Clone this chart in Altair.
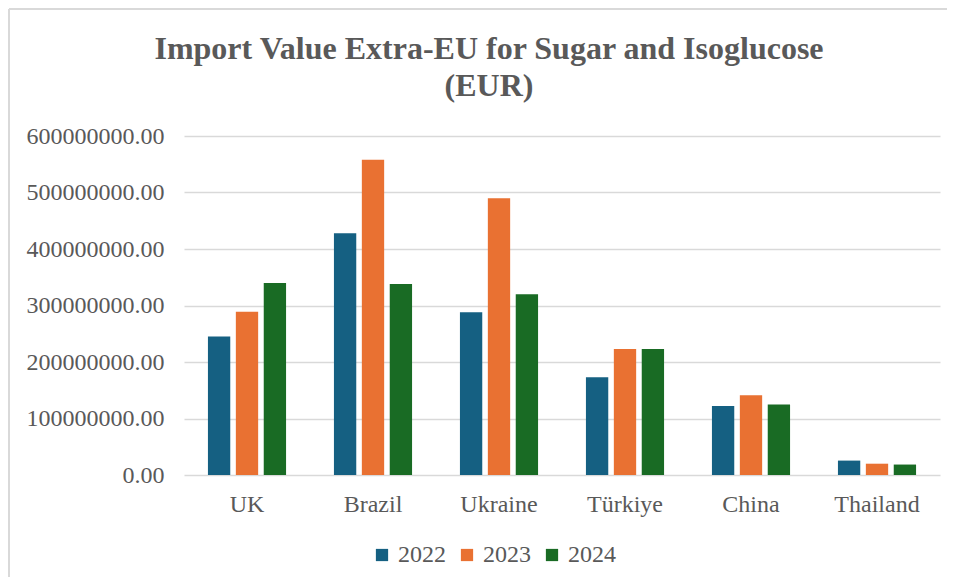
import altair as alt
import pandas as pd

countries = ["UK", "Brazil", "Ukraine", "Türkiye", "China", "Thailand"]
years = ["2022", "2023", "2024"]
v2022 = [245e6, 428e6, 288e6, 173e6, 122e6, 25.5e6]
v2023 = [289e6, 558e6, 490e6, 223e6, 141e6, 20e6]
v2024 = [340e6, 338e6, 320e6, 223e6, 125e6, 18.5e6]
colors = ["#156082", "#E97132", "#196B24"]
y_ticks = [0, 1e8, 2e8, 3e8, 4e8, 5e8, 6e8]
title_lines = ["Import Value Extra-EU for Sugar and Isoglucose", "(EUR)"]

rows = []
for yr, vals in zip(years, [v2022, v2023, v2024]):
    for c, v in zip(countries, vals):
        rows.append({"Country": c, "Year": yr, "Value": v})
df = pd.DataFrame(rows)

FONT = "Liberation Serif"
GREY = "#595959"
W, H = 756, 339

bars = alt.Chart(df).mark_bar().encode(
    x=alt.X("Country:N", sort=countries,
            scale=alt.Scale(paddingInner=0.38, paddingOuter=0.19),
            axis=alt.Axis(title=None, labelAngle=0, ticks=False, domain=False,
                          labelFont=FONT, labelFontSize=24, labelColor=GREY,
                          labelPadding=17, grid=False)),
    xOffset=alt.XOffset("Year:N", sort=years,
                        scale=alt.Scale(paddingInner=0.2, paddingOuter=0)),
    y=alt.Y("Value:Q", scale=alt.Scale(domain=[0, 6e8], nice=False),
            axis=alt.Axis(title=None, values=y_ticks, format=".2f",
                          ticks=False, domain=False, labelFont=FONT,
                          labelFontSize=24, labelColor=GREY, labelPadding=20,
                          gridColor="#D9D9D9", gridWidth=1.5)),
    color=alt.Color("Year:N", sort=years,
                    scale=alt.Scale(domain=years, range=colors),
                    legend=alt.Legend(title=None, orient="none",
                                      legendX=186, legendY=407,
                                      direction="horizontal",
                                      symbolType="square", symbolSize=150,
                                      symbolStrokeWidth=0,
                                      labelFont=FONT, labelFontSize=24,
                                      labelColor=GREY, columnPadding=9,
                                      labelOffset=4)),
)

border_left = alt.Chart(df).mark_rule(color="#D9D9D9", strokeWidth=1.5).encode(
    x=alt.value(-175), y=alt.value(-127), y2=alt.value(441))
border_top = alt.Chart(df).mark_rule(color="#D9D9D9", strokeWidth=1.5).encode(
    x=alt.value(-175), x2=alt.value(763), y=alt.value(-127))

title1 = alt.Chart(pd.DataFrame({"t": [title_lines[0]]})).mark_text(
    font=FONT, fontSize=32, fontWeight="bold", color=GREY,
    align="center", baseline="alphabetic").encode(
    text="t:N", x=alt.value(305), y=alt.value(-77))
title2 = alt.Chart(pd.DataFrame({"t": [title_lines[1]]})).mark_text(
    font=FONT, fontSize=32, fontWeight="bold", color=GREY,
    align="center", baseline="alphabetic").encode(
    text="t:N", x=alt.value(305), y=alt.value(-40))

chart = alt.layer(bars, border_left, border_top, title1, title2).properties(
    width=W, height=H,
    padding={"left": 0, "top": 0, "right": 0, "bottom": 0},
).configure(font=FONT).configure_view(stroke=None).configure_axis(
    labelFont=FONT).configure_legend(labelFont=FONT)

chart.save("out.html", embed_options={"renderer": "svg", "actions": False})
